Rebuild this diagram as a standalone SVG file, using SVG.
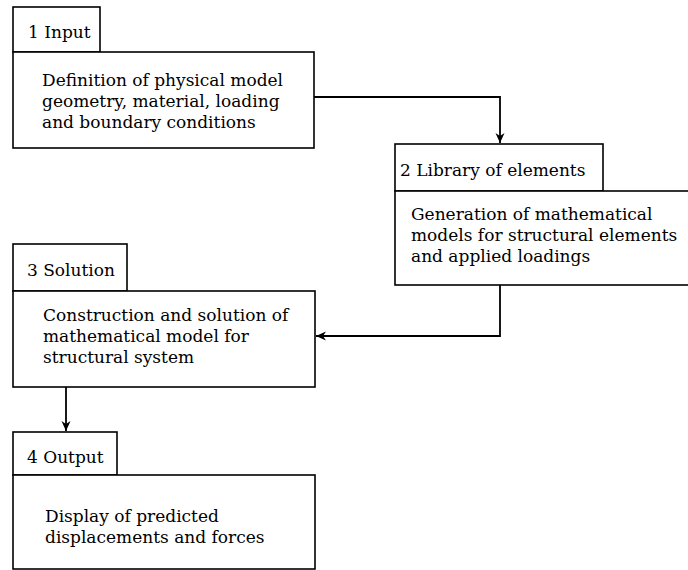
<svg xmlns="http://www.w3.org/2000/svg" width="688" height="570" viewBox="0 0 688 570">
<defs>
<marker id="arr" viewBox="0 0 12 12" refX="11" refY="6" markerWidth="12" markerHeight="12" markerUnits="userSpaceOnUse" orient="auto">
<path d="M11,6 L1,1.5 L4,6 L1,10.5 Z" fill="#000"/>
</marker>
<style>
.box{fill:#fff;stroke:#000;stroke-width:1.6}
.t{font-family:"DejaVu Serif",serif;font-size:17px;fill:#000}
.c{fill:none;stroke:#000;stroke-width:1.8}
</style>
</defs>
<rect width="688" height="570" fill="#fff"/>
<g id="connectors">
<path class="c" d="M314,97 H500 V143" marker-end="url(#arr)"/>
<path class="c" d="M500,285 V336 H316" marker-end="url(#arr)"/>
<path class="c" d="M66,387 V431" marker-end="url(#arr)"/>
</g>
<g id="n1">
<rect class="box" x="13" y="7" width="87" height="45"/>
<rect class="box" x="13" y="52" width="301" height="96"/>
<text class="t" x="28" y="38">1 Input</text>
<text class="t" x="42" y="86">Definition of physical model</text>
<text class="t" x="42" y="107">geometry, material, loading</text>
<text class="t" x="42" y="128">and boundary conditions</text>
</g>
<g id="n2">
<rect class="box" x="395" y="144" width="208" height="47"/>
<rect class="box" x="395" y="191" width="300" height="94"/>
<text class="t" x="400" y="176">2 Library of elements</text>
<text class="t" x="411" y="220">Generation of mathematical</text>
<text class="t" x="411" y="241">models for structural elements</text>
<text class="t" x="411" y="262">and applied loadings</text>
</g>
<g id="n3">
<rect class="box" x="13" y="244" width="114" height="47"/>
<rect class="box" x="13" y="291" width="302" height="96"/>
<text class="t" x="27" y="276">3 Solution</text>
<text class="t" x="43" y="321">Construction and solution of</text>
<text class="t" x="43" y="342">mathematical model for</text>
<text class="t" x="43" y="363">structural system</text>
</g>
<g id="n4">
<rect class="box" x="13" y="432" width="104" height="43"/>
<rect class="box" x="13" y="475" width="302" height="94"/>
<text class="t" x="27" y="463">4 Output</text>
<text class="t" x="45" y="522">Display of predicted</text>
<text class="t" x="45" y="543">displacements and forces</text>
</g>
</svg>
